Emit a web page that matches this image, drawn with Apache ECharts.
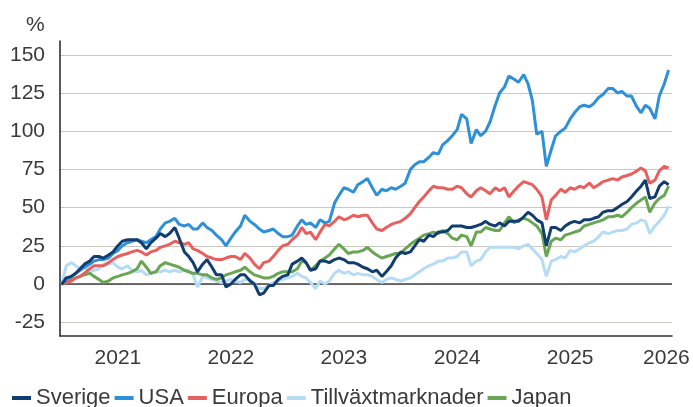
<!DOCTYPE html>
<html>
<head>
<meta charset="utf-8">
<script src="https://cdn.jsdelivr.net/npm/echarts@6/dist/echarts.min.js"></script>
<style>
html,body{margin:0;padding:0;background:#fff;}
#chart{width:693px;height:407px;}
</style>
</head>
<body>
<div id="chart"></div>
<script>
// Semi-monthly observation dates (1st and 15th of each month), Jan 2021 – May 2026
const dates = [];
for (let y = 2021; y <= 2026; y++) {
  for (let m = 1; m <= 12; m++) {
    for (const d of ['01', '15']) {
      if (dates.length < 130) dates.push(y + '-' + String(m).padStart(2, '0') + '-' + d);
    }
  }
}

const seriesNames = ['Sverige', 'USA', 'Europa', 'Tillväxtmarknader', 'Japan'];

const sverige = [
  0,4,5,7,10,13,15,18,18,17,
  19,21,25,28,29,29,29,27,23,27,
  30,33,31,33,37,30,21,18,14,8,
  13,16,11,6,6,-2,0,3,6,6,
  2,0,-7,-6,-1,-1,3,5,6,13,
  15,17,14,9,10,15,15,14,16,17,
  16,14,14,13,11,10,8,9,5,8,
  12,17,21,20,21,25,29,28,32,31,
  34,34,35,38,38,38,37,37,38,39,
  41,39,38,40,38,41,41,41,44,47,
  45,42,40,25,37,37,35,38,40,41,
  40,42,42,43,44,47,48,48,50,52,
  54,57,61,64,68,56,57,64,67,65
];
const usa = [
  0,3,5,7,9,11,13,15,16,16,
  17,20,22,25,27,28,29,28,27,29,
  31,36,40,41,43,39,38,39,36,36,
  40,37,35,32,29,25,30,34,38,45,
  41,39,36,34,35,36,33,31,31,32,
  38,42,39,40,37,42,40,41,53,58,
  63,62,60,65,67,69,63,58,62,61,
  63,62,64,66,75,78,80,80,83,86,
  85,91,94,97,101,111,108,92,101,97,
  100,106,117,125,129,136,134,132,137,131,
  120,98,100,77,88,97,100,102,108,112,
  116,117,116,118,122,124,128,128,125,126,
  123,123,116,112,117,115,108,123,131,140
];
const europa = [
  0,1,2,4,5,7,10,12,12,12,
  14,16,18,19,20,21,22,21,19,21,
  22,24,25,26,28,27,26,27,23,22,
  20,18,17,16,16,17,18,18,16,20,
  17,13,10,14,15,18,22,25,26,29,
  32,37,33,34,29,34,39,38,41,44,
  42,43,45,44,45,45,40,36,35,37,
  39,40,41,43,46,50,54,57,61,64,
  63,63,62,62,64,63,59,57,61,63,
  61,59,63,61,63,57,61,64,67,66,
  65,62,57,42,55,58,62,60,63,62,
  64,63,66,63,65,67,68,69,68,70,
  71,72,74,76,74,66,68,74,77,76
];
const tillvaxt = [
  0,12,14,12,10,11,8,9,10,13,
  13,14,11,10,12,9,8,9,6,7,
  8,8,9,8,9,8,9,9,6,-2,
  5,4,3,2,1,2,3,2,1,3,
  3,0,-3,-3,-1,1,2,3,4,5,
  7,5,4,1,-3,2,0,2,7,9,
  7,8,6,7,6,6,5,3,1,3,
  4,3,2,3,4,6,8,10,12,13,
  15,15,17,17,18,21,21,12,15,16,
  21,24,24,24,24,24,24,23,25,26,
  23,20,16,5,15,16,18,17,22,21,
  23,25,27,28,31,34,33,34,35,35,
  36,39,40,42,41,33,38,41,45,51
];
const japan = [
  0,1,3,4,5,6,7,5,3,1,
  2,4,5,6,7,8,10,15,11,7,
  8,12,14,13,12,11,9,8,7,7,
  6,6,4,3,4,6,7,8,9,11,
  8,6,5,4,4,5,7,8,8,8,
  10,15,14,9,12,15,17,19,23,26,
  23,20,21,21,22,24,21,19,17,18,
  19,20,20,23,26,28,30,32,33,34,
  33,35,33,30,29,32,31,25,34,34,
  37,36,35,35,40,44,40,42,43,42,
  40,38,33,18,28,30,29,32,33,34,
  35,38,39,40,41,42,44,44,45,44,
  47,50,53,55,57,47,53,56,58,64
];

const yTicks = [-25, 0, 25, 50, 75, 100, 125, 150];
const xLabelDates = ['2021-07-01', '2022-07-01', '2023-07-01', '2024-07-01', '2025-07-01', '2026-05-08'];

const colors = ['#123d70', '#2e91d8', '#e8605e', '#b5dcf4', '#69a653'];
const allValues = [sverige, usa, europa, tillvaxt, japan];
const zOrder = [6, 5, 4, 2, 3];
const FONT = 'Liberation Sans, Arial, sans-serif';
const TXT = '#3a3a3a';
const ts = d => Date.parse(d + 'T00:00:00Z');

const series = seriesNames.map((name, k) => ({
  name: name,
  type: 'line',
  data: dates.map((d, i) => [ts(d), allValues[k][i]]),
  showSymbol: false,
  symbol: 'none',
  z: zOrder[k],
  lineStyle: { width: 3, color: colors[k] },
  itemStyle: { color: colors[k] },
  emphasis: { disabled: true },
  animation: false
}));
series[0].markLine = {
  silent: true,
  symbol: 'none',
  label: { show: false },
  lineStyle: { color: '#404040', width: 1.5, type: 'solid' },
  data: [{ yAxis: 0 }],
  z: 1
};

const chart = echarts.init(document.getElementById('chart'), null, { renderer: 'canvas' });
chart.setOption({
  animation: false,
  color: colors,
  title: {
    text: '%', left: 21, top: 10,
    textStyle: { fontFamily: FONT, fontSize: 21, fontWeight: 'normal', color: TXT }
  },
  grid: { left: 60, right: 21, top: 41, bottom: 71, containLabel: false },
  legend: {
    data: seriesNames,
    left: 12, top: 387, padding: 0,
    icon: 'rect', itemWidth: 19, itemHeight: 4, itemGap: 4,
    textStyle: { fontFamily: FONT, fontSize: 22, color: TXT }
  },
  xAxis: {
    type: 'value',
    min: ts('2020-12-26'), max: ts('2026-05-26'),
    axisLine: { show: true, onZero: false, lineStyle: { color: '#333', width: 1.5 } },
    axisTick: { show: false },
    splitLine: { show: false },
    axisLabel: {
      customValues: xLabelDates.map(ts),
      formatter: v => String(new Date(v).getUTCFullYear()),
      fontFamily: FONT, fontSize: 21, color: TXT, margin: 12
    }
  },
  yAxis: {
    type: 'value',
    min: -34, max: 159,
    axisLine: { show: true, lineStyle: { color: '#222', width: 1.5 } },
    axisTick: { show: false, customValues: yTicks },
    splitLine: { show: true, lineStyle: { color: '#cbc8c0', width: 1.2 } },
    axisLabel: {
      customValues: yTicks,
      fontFamily: FONT, fontSize: 21, color: TXT, margin: 15
    }
  },
  series: series
});
</script>
</body>
</html>
